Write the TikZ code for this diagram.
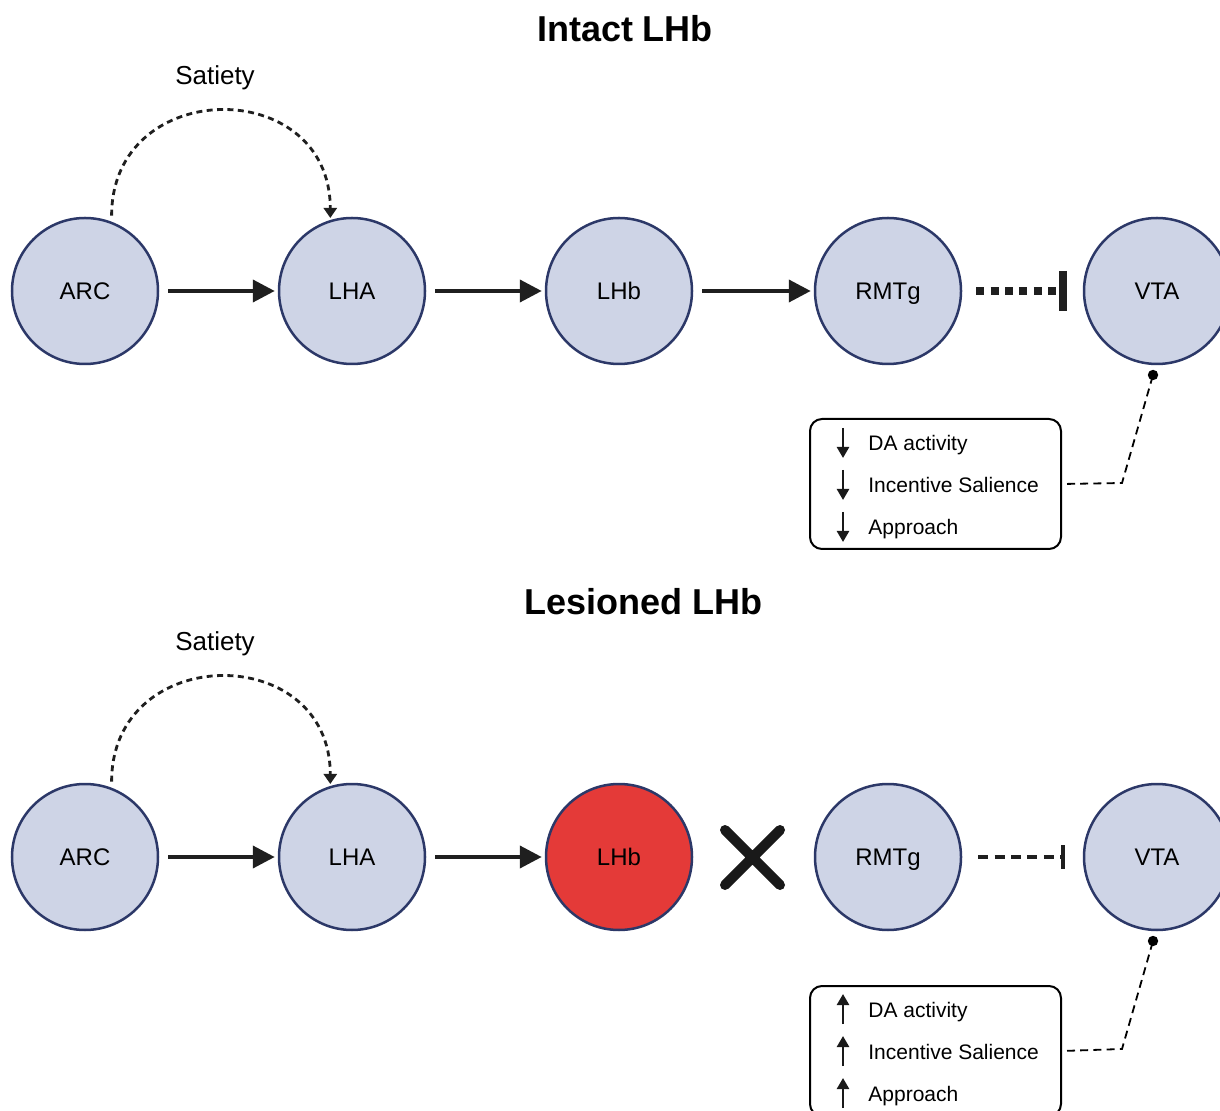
\documentclass[tikz,border=0pt]{standalone}
\usepackage{fontspec}
\setmainfont{Liberation Sans}
\usetikzlibrary{arrows.meta}

\definecolor{regionfill}{RGB}{206,212,230}
\definecolor{regionline}{RGB}{44,56,104}
\definecolor{lesionred}{RGB}{228,58,56}

\tikzset{
  region/.style={circle, draw=regionline, line width=1.25pt, fill=regionfill,
    minimum size=73pt, inner sep=0pt, text height=2ex, text depth=0.4ex,
    font=\fontsize{12}{14}\selectfont},
  lesion/.style={region, fill=lesionred},
  excite/.style={-{Triangle[length=11pt,width=11pt]}, line width=2pt, black!88,
    shorten <=4.5pt, shorten >=1.5pt},
  feedback/.style={-{Triangle[length=5pt,width=6.5pt]}, line width=1.4pt, black!88,
    dash pattern=on 3pt off 2.2pt, shorten <=3pt, shorten >=1pt},
  inhibit/.style={-{Bar[width=20pt]}, line width=4pt, black!88,
    dash pattern=on 4pt off 3.2pt, shorten <=7pt, shorten >=8pt},
  inhibitweak/.style={-{Bar[width=12pt]}, line width=2pt, black!88,
    dash pattern=on 5pt off 3.2pt, shorten <=8pt, shorten >=9pt},
  effectbox/.style={draw, rounded corners=6pt, line width=1pt,
    minimum width=125.5pt, minimum height=65pt},
  effect/.style={anchor=base west, inner sep=0pt, font=\fontsize{10.5}{12}\selectfont},
  trend/.style={-{Triangle[length=5.5pt,width=6pt]}, line width=1.2pt, black!90},
  link/.style={line width=0.9pt, dash pattern=on 4pt off 2.6pt, shorten <=2.5pt},
  title/.style={font=\bfseries\fontsize{18}{21}\selectfont},
  satlabel/.style={font=\fontsize{13}{15}\selectfont},
}

\begin{document}
\begin{tikzpicture}[x=0.5pt, y=-0.5pt]
\useasboundingbox (0,0) rectangle (1220,1111);

% Intact LHb
\node[title] (titleA) at (625,29) {Intact LHb};
\node[region] (arcA) at (85,291) {ARC};
\node[region] (lhaA) at (352,291) {LHA};
\node[region] (lhbA) at (619,291) {LHb};
\node[region] (rmtgA) at (888,291) {RMTg};
\node[region] (vtaA) at (1157,291) {VTA};

\node[satlabel] (satA) at (215,78) {Satiety};
\draw[feedback] (arcA.69) to[out=90, in=90, looseness=1.7] (lhaA.107);

\draw[excite] (arcA) -- (lhaA);
\draw[excite] (lhaA) -- (lhbA);
\draw[excite] (lhbA) -- (rmtgA);
\draw[inhibit] (rmtgA) -- (vtaA);

% Effekte
\node[effectbox] (boxA) at (935.5,484) {};
\node[effect] (daA) at (868,451) {DA activity};
\node[effect] (isA) at (868,493) {Incentive Salience};
\node[effect] (apA) at (868,535) {Approach};
\foreach \y in {443,485,527}
  \draw[trend] (843,\y-15) -- (843,\y+15);

\coordinate (dotA) at (1153,375);
\coordinate (bendA) at (1122,483);
\fill (dotA) circle (2.6pt);
\draw[link] (boxA.east) -- (bendA) -- (dotA);

% Lesioned LHb
\node[title] (titleB) at (643,602) {Lesioned LHb};
\node[region] (arcB) at (85,857) {ARC};
\node[region] (lhaB) at (352,857) {LHA};
\node[lesion] (lhbB) at (619,857) {LHb};
\node[region] (rmtgB) at (888,857) {RMTg};
\node[region] (vtaB) at (1157,857) {VTA};

\node[satlabel] (satB) at (215,644) {Satiety};
\draw[feedback] (arcB.69) to[out=90, in=90, looseness=1.7] (lhaB.107);

\draw[excite] (arcB) -- (lhaB);
\draw[excite] (lhaB) -- (lhbB);
\draw[inhibitweak] (rmtgB) -- (vtaB);

% Kreuz
\draw[line width=5pt, line cap=round, black!90] (725,830) -- (780,885) (725,885) -- (780,830);

% Effekte
\node[effectbox] (boxB) at (935.5,1051) {};
\node[effect] (daB) at (868,1017) {DA activity};
\node[effect] (isB) at (868,1059) {Incentive Salience};
\node[effect] (apB) at (868,1101) {Approach};
\foreach \y in {1009,1051,1093}
  \draw[trend] (843,\y+15) -- (843,\y-15);

\coordinate (dotB) at (1153,941);
\coordinate (bendB) at (1122,1049);
\fill (dotB) circle (2.6pt);
\draw[link] (boxB.east) -- (bendB) -- (dotB);
\end{tikzpicture}
\end{document}
